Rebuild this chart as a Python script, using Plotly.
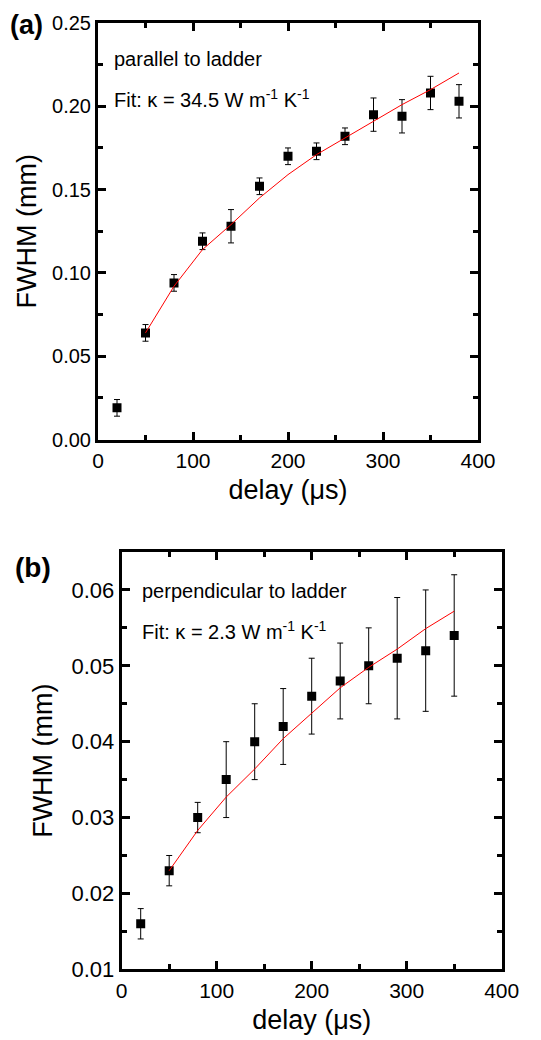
import plotly.graph_objects as go

# Panel (a): parallel to ladder
delay_a = [20, 50, 80, 110, 140, 170, 200, 230, 260, 290, 320, 350, 380]
fwhm_a = [0.019, 0.064, 0.094, 0.119, 0.128, 0.152, 0.170, 0.173, 0.182, 0.195, 0.194, 0.208, 0.203]
err_a = [0.005, 0.005, 0.005, 0.005, 0.010, 0.005, 0.005, 0.005, 0.005, 0.010, 0.010, 0.010, 0.010]
fit_x_a = [50, 80, 110, 140, 170, 200, 230, 260, 290, 320, 350, 380]
fit_y_a = [0.064, 0.092, 0.114, 0.129, 0.145, 0.159, 0.171, 0.181, 0.191, 0.201, 0.210, 0.220]

# Panel (b): perpendicular to ladder
delay_b = [20, 50, 80, 110, 140, 170, 200, 230, 260, 290, 320, 350]
fwhm_b = [0.016, 0.023, 0.030, 0.035, 0.040, 0.042, 0.046, 0.048, 0.050, 0.051, 0.052, 0.054]
err_b = [0.002, 0.002, 0.002, 0.005, 0.005, 0.005, 0.005, 0.005, 0.005, 0.008, 0.008, 0.008]
fit_x_b = [50, 80, 110, 140, 170, 200, 230, 260, 290, 320, 350]
fit_y_b = [0.023, 0.0283, 0.0327, 0.0364, 0.0404, 0.0437, 0.0471, 0.0498, 0.0522, 0.0549, 0.0572]

FONT = "Liberation Sans, Arial, sans-serif"

fig = go.Figure()

def add_panel(xs, ys, es, fx, fy, xa, ya):
    fig.add_trace(go.Scatter(
        x=xs, y=ys, mode="markers", xaxis=xa, yaxis=ya,
        marker=dict(symbol="square", size=9, color="black"),
        error_y=dict(type="data", array=es, visible=True, color="black",
                     thickness=1, width=3),
        showlegend=False))
    fig.add_trace(go.Scatter(
        x=fx, y=fy, mode="lines", xaxis=xa, yaxis=ya,
        line=dict(color="red", width=1), showlegend=False))

add_panel(delay_a, fwhm_a, err_a, fit_x_a, fit_y_a, "x", "y")
add_panel(delay_b, fwhm_b, err_b, fit_x_b, fit_y_b, "x2", "y2")

def axis_common(size):
    return dict(
        showline=True, linewidth=3, linecolor="black", mirror="allticks",
        ticks="inside", ticklen=8, tickwidth=2.5, tickcolor="black",
        showgrid=False, zeroline=False, automargin=False,
        tickfont=dict(family=FONT, size=size, color="black"),
    )

def xtitle(standoff):
    return dict(text="delay (μs)", font=dict(family=FONT, size=27, color="black"), standoff=standoff)

def ytitle(standoff):
    return dict(text="FWHM (mm)", font=dict(family=FONT, size=27, color="black"), standoff=standoff)

fig.update_layout(
    width=541, height=1040,
    margin=dict(l=0, r=0, t=0, b=0),
    paper_bgcolor="white", plot_bgcolor="white",
    xaxis=dict(domain=[98/541, 478/541], anchor="y", range=[0, 400], dtick=100,
               minor=dict(ticks="inside", ticklen=5, tickwidth=2.5, dtick=50, tickcolor="black"),
               title=xtitle(10), **axis_common(21)),
    yaxis=dict(domain=[1-439.5/1040, 1-23/1040], anchor="x", range=[0, 0.25], dtick=0.05,
               tickformat=".2f",
               minor=dict(ticks="inside", ticklen=5, tickwidth=2.5, dtick=0.025, tickcolor="black"),
               title=ytitle(8), **axis_common(20)),
    xaxis2=dict(domain=[121.7/541, 501.7/541], anchor="y2", range=[0, 400], dtick=100,
                minor=dict(ticks="inside", ticklen=5, tickwidth=2.5, dtick=50, tickcolor="black"),
                title=xtitle(10), **axis_common(21)),
    yaxis2=dict(domain=[1-969.3/1040, 1-552/1040], anchor="x2", range=[0.01, 0.065], dtick=0.01,
                tick0=0.01, tickformat=".2f",
                minor=dict(ticks="inside", ticklen=5, tickwidth=2.5, dtick=0.005, tickcolor="black"),
                title=ytitle(12), **axis_common(22)),
)

ann_font = dict(family=FONT, size=20, color="black")
annotations = [
    dict(text="<b>(a)</b>", x=8/541, y=1-25/1040, xref="paper", yref="paper",
         xanchor="left", yanchor="middle", showarrow=False,
         font=dict(family=FONT, size=27, color="black")),
    dict(text="<b>(b)</b>", x=13/541, y=1-567/1040, xref="paper", yref="paper",
         xanchor="left", yanchor="middle", showarrow=False,
         font=dict(family=FONT, size=28, color="black")),
    dict(text="parallel to ladder", x=112/541, y=1-59/1040, xref="paper", yref="paper",
         xanchor="left", yanchor="middle", showarrow=False, font=ann_font),
    dict(text="Fit: κ = 34.5 W m<sup>-1</sup> K<sup>-1</sup>", x=112/541, y=1-98/1040,
         xref="paper", yref="paper", xanchor="left", yanchor="middle", showarrow=False, font=ann_font),
    dict(text="perpendicular to ladder", x=140/541, y=1-591/1040, xref="paper", yref="paper",
         xanchor="left", yanchor="middle", showarrow=False, font=ann_font),
    dict(text="Fit: κ = 2.3 W m<sup>-1</sup> K<sup>-1</sup>", x=140/541, y=1-630/1040,
         xref="paper", yref="paper", xanchor="left", yanchor="middle", showarrow=False, font=ann_font),
]
fig.update_layout(annotations=annotations)

fig.write_html("out.html")
